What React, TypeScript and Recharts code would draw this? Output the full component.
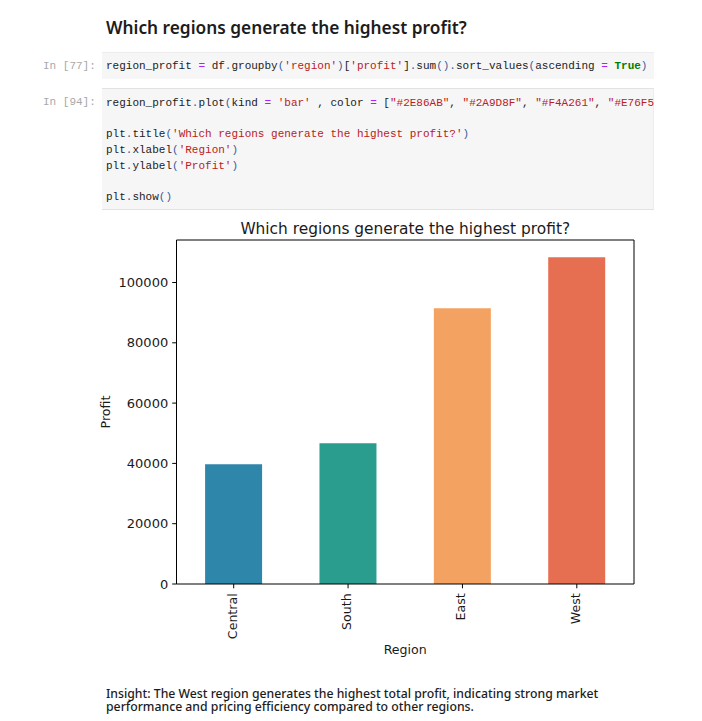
import { BarChart, Bar, Cell, XAxis, YAxis } from "recharts";

const regions = ["Central", "South", "East", "West"];
const profits = [39700, 46700, 91500, 108400];
const barColors = ["#2E86AB", "#2A9D8F", "#F4A261", "#E76F51"];
const yTicks = [0, 20000, 40000, 60000, 80000, 100000];

const chartData = regions.map((region, i) => ({ region, profit: profits[i] }));

const TITLE = "Which regions generate the highest profit?";
const INSIGHT = [
  "Insight: The West region generates the highest total profit, indicating strong market",
  "performance and pricing efficiency compared to other regions.",
];

const mplFont = "'DejaVu Sans', sans-serif";
const nbFont = "'Noto Sans', sans-serif";
const codeFont = "'Liberation Mono', monospace";

const RED = "#ba2121";
const OP = "#aa22ff";
const DOT = "#3a5a9a";

const S = ({ c, children }: { c: string; children: any }) => <span style={{ color: c }}>{children}</span>;

const codeStyle: React.CSSProperties = {
  position: "absolute",
  left: 106,
  fontFamily: codeFont,
  fontSize: 11,
  lineHeight: "16px",
  color: "#222",
  whiteSpace: "pre",
  margin: 0,
};

function XTick({ x, y, payload }: any) {
  return (
    <text
      transform={`translate(${x + 3},${y + 3}) rotate(-90)`}
      textAnchor="end"
      fontFamily={mplFont}
      fontSize={12.6}
      fill="#1a1a1a"
    >
      {payload.value}
    </text>
  );
}

export default function App() {
  return (
    <div style={{ position: "absolute", left: 0, top: 0, width: 702, height: 721, background: "#fff", overflow: "hidden" }}>
      <div style={{ position: "absolute", left: 106, top: 16, fontFamily: nbFont, fontWeight: 600, fontSize: 17.3, color: "#1c1c1c", whiteSpace: "nowrap" }}>
        {TITLE}
      </div>

      <div style={{ position: "absolute", left: 43, top: 58, fontFamily: codeFont, fontSize: 11, lineHeight: "16px", color: "#a8a8a8" }}>In [77]:</div>
      <div style={{ position: "absolute", left: 102, top: 52, width: 552, height: 27, background: "#f6f6f7", borderTop: "1px solid #ececec", boxSizing: "border-box", overflow: "hidden" }} />
      <div style={{ ...codeStyle, top: 58 }}>
        region_profit <S c={OP}>=</S> df<S c={DOT}>.</S>groupby<S c={DOT}>(</S><S c={RED}>'region'</S><S c={DOT}>)</S>[<S c={RED}>'profit'</S>]<S c={DOT}>.</S>sum<S c={DOT}>().</S>sort_values<S c={DOT}>(</S>ascending <S c={OP}>=</S> <b style={{ color: "#008000" }}>True</b><S c={DOT}>)</S>
      </div>

      <div style={{ position: "absolute", left: 43, top: 94, fontFamily: codeFont, fontSize: 11, lineHeight: "16px", color: "#a8a8a8" }}>In [94]:</div>
      <div style={{ position: "absolute", left: 102, top: 88, width: 552, height: 122, background: "#f6f6f7", borderTop: "1px solid #e2e2e2", borderBottom: "1px solid #e2e2e2", borderRight: "1px solid #ececec", boxSizing: "border-box" }}>
        <div style={{ ...codeStyle, left: 4, top: 6 }}>
          region_profit<S c={DOT}>.</S>plot<S c={DOT}>(</S>kind <S c={OP}>=</S> <S c={RED}>'bar'</S> , color <S c={OP}>=</S> [<S c={RED}>"#2E86AB"</S>, <S c={RED}>"#2A9D8F"</S>, <S c={RED}>"#F4A261"</S>, <S c={RED}>"#E76F5</S>
        </div>
        <div style={{ ...codeStyle, left: 4, top: 37 }}>
          plt<S c={DOT}>.</S>title<S c={DOT}>(</S><S c={RED}>'{TITLE}'</S><S c={DOT}>)</S>
        </div>
        <div style={{ ...codeStyle, left: 4, top: 53 }}>
          plt<S c={DOT}>.</S>xlabel<S c={DOT}>(</S><S c={RED}>'Region'</S><S c={DOT}>)</S>
        </div>
        <div style={{ ...codeStyle, left: 4, top: 69 }}>
          plt<S c={DOT}>.</S>ylabel<S c={DOT}>(</S><S c={RED}>'Profit'</S><S c={DOT}>)</S>
        </div>
        <div style={{ ...codeStyle, left: 4, top: 100 }}>
          plt<S c={DOT}>.</S>show<S c={DOT}>()</S>
        </div>
      </div>

      <div style={{ position: "absolute", left: 0, top: 210 }}>
        <BarChart
          width={702}
          height={460}
          data={chartData}
          barCategoryGap="25%"
          margin={{ top: 29, right: 67, bottom: 9, left: 0 }}
        >
          <XAxis
            dataKey="region"
            interval={0}
            height={77}
            stroke="#000"
            tickSize={4.3}
            tick={<XTick />}
            label={{ value: "Region", position: "insideBottom", offset: 7, fontFamily: mplFont, fontSize: 12.6, fill: "#1a1a1a" }}
          />
          <XAxis
            xAxisId="top"
            dataKey="region"
            orientation="top"
            height={1}
            stroke="#000"
            tick={false}
            tickLine={false}
            label={{ value: TITLE, position: "top", offset: 5, fontFamily: mplFont, fontSize: 15.4, fill: "#1a1a1a" }}
          />
          <YAxis
            width={176.5}
            domain={[0, 114100]}
            ticks={yTicks}
            interval={0}
            stroke="#000"
            tickSize={4.3}
            tickMargin={4}
            tick={{ fontFamily: mplFont, fontSize: 13, fill: "#1a1a1a" }}
            label={{ value: "Profit", angle: -90, position: "insideLeft", offset: 106, textAnchor: "middle", fontFamily: mplFont, fontSize: 12.6, fill: "#1a1a1a" }}
          />
          <YAxis yAxisId="right" orientation="right" width={1} stroke="#000" tick={false} tickLine={false} />
          <Bar dataKey="profit" isAnimationActive={false}>
            {chartData.map((d, i) => (
              <Cell key={d.region} fill={barColors[i]} />
            ))}
          </Bar>
        </BarChart>
      </div>

      <div style={{ position: "absolute", left: 106, top: 687, fontFamily: nbFont, fontWeight: 500, fontSize: 12.25, lineHeight: "13px", color: "#1c1c1c", whiteSpace: "nowrap" }}>
        {INSIGHT.map((line) => (
          <div key={line}>{line}</div>
        ))}
      </div>
    </div>
  );
}
